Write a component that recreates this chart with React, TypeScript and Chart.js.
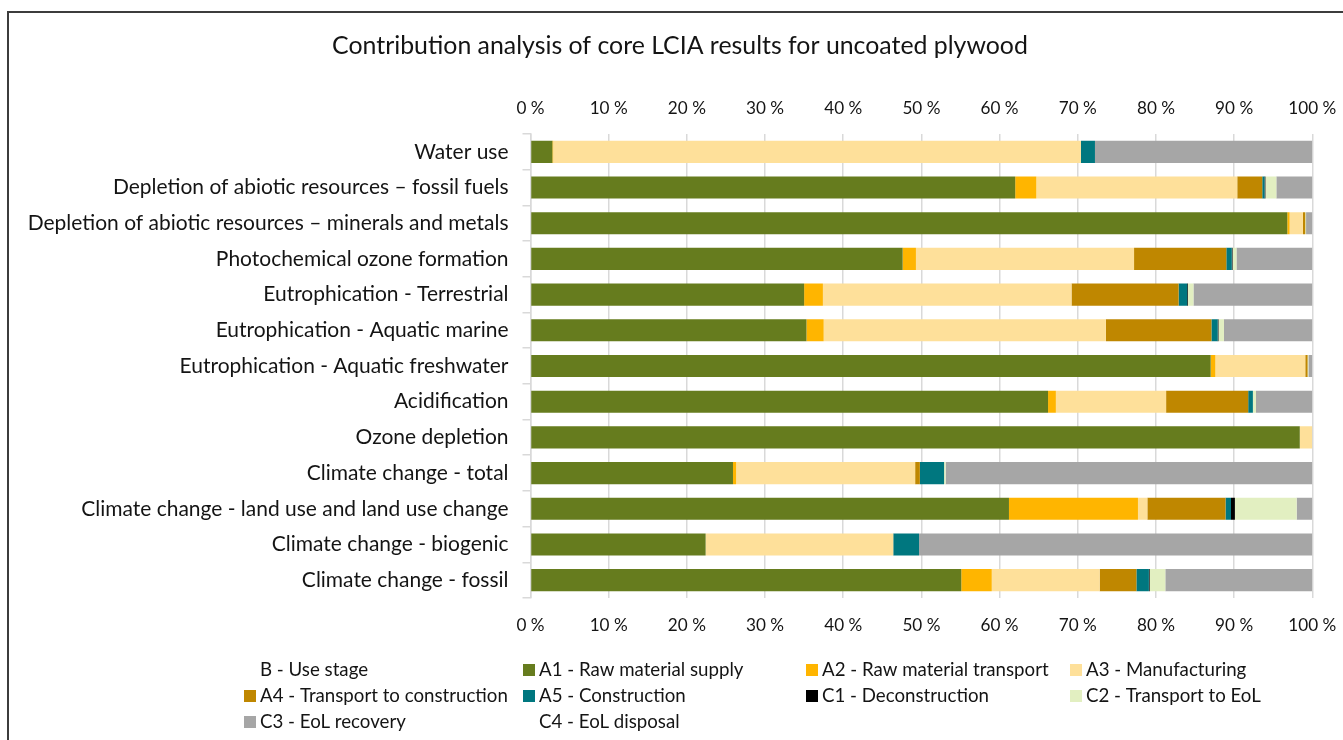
import React, { useEffect, useRef } from 'react';
import { Chart, registerables } from 'chart.js';

Chart.register(...registerables);

const FONT = 'Lato, "Open Sans", sans-serif';
const TEXT = '#141414';

const chartTitle = 'Contribution analysis of core LCIA results for uncoated plywood';

const categories = [
  'Water use',
  'Depletion of abiotic resources – fossil fuels',
  'Depletion of abiotic resources – minerals and metals',
  'Photochemical ozone formation',
  'Eutrophication - Terrestrial',
  'Eutrophication - Aquatic marine',
  'Eutrophication - Aquatic freshwater',
  'Acidification',
  'Ozone depletion',
  'Climate change - total',
  'Climate change - land use and land use change',
  'Climate change - biogenic',
  'Climate change - fossil',
];

const seriesNames = [
  'B - Use stage',
  'A1 - Raw material supply',
  'A2 - Raw material transport',
  'A3 - Manufacturing',
  'A4 - Transport to construction',
  'A5 - Construction',
  'C1 - Deconstruction',
  'C2 - Transport to EoL',
  'C3 - EoL recovery',
  'C4 - EoL disposal',
];

const seriesColors = [
  'rgba(0,0,0,0)',
  '#667c1e',
  '#ffb500',
  '#fee09a',
  '#bf8700',
  '#00777f',
  '#000000',
  '#e2efc1',
  '#a6a6a6',
  'rgba(0,0,0,0)',
];

const B = [0, 0, 0, 0, 0, 0, 0, 0, 0, 0, 0, 0, 0];
const A1 = [2.8, 62.0, 96.8, 47.6, 35.0, 35.3, 87.0, 66.2, 98.4, 25.9, 61.2, 22.4, 55.1];
const A2 = [0.1, 2.7, 0.3, 1.7, 2.4, 2.2, 0.6, 1.0, 0, 0.4, 16.5, 0, 3.9];
const A3 = [67.5, 25.7, 1.7, 27.9, 31.8, 36.1, 11.5, 14.1, 1.6, 22.9, 1.2, 24.0, 13.8];
const A4 = [0, 3.2, 0.3, 11.8, 13.7, 13.5, 0.3, 10.5, 0, 0.6, 10.0, 0, 4.7];
const A5 = [1.8, 0.3, 0, 0.7, 1.1, 0.8, 0, 0.6, 0, 3.1, 0.7, 3.3, 1.6];
const C1 = [0, 0.1, 0, 0.1, 0.1, 0.1, 0, 0, 0, 0, 0.5, 0, 0.1];
const C2 = [0, 1.4, 0.1, 0.5, 0.7, 0.7, 0.1, 0.4, 0, 0.2, 7.9, 0, 2.0];
const C3 = [27.8, 4.6, 0.8, 9.7, 15.2, 11.3, 0.5, 7.2, 0, 46.9, 2.0, 50.3, 18.8];
const C4 = [0, 0, 0, 0, 0, 0, 0, 0, 0, 0, 0, 0, 0];

const seriesValues = [B, A1, A2, A3, A4, A5, C1, C2, C3, C4];

const axisMin = 0;
const axisMax = 100;
const axisStep = 10;
const tickSuffix = ' %';

function fitSize(text: string, target: number): number {
  const c = document.createElement('canvas').getContext('2d');
  if (!c) return 16;
  c.font = `100px ${FONT}`;
  const w = c.measureText(text).width;
  return w > 0 ? (100 * target) / w : 16;
}

export default function App() {
  const canvasRef = useRef<HTMLCanvasElement | null>(null);

  useEffect(() => {
    const canvas = canvasRef.current;
    if (!canvas) return;

    const titleSize = fitSize(chartTitle, 696);
    const ySize = fitSize(categories[2], 481);
    const xSize = fitSize('100' + tickSuffix, 48);
    const legendSize = fitSize(seriesNames[4], 248);
    const xLine = xSize * 1.2;

    const legendCols = [235, 514, 797, 1061];
    const legendRows = [657, 683, 709];

    const overlay = {
      id: 'overlay',
      afterDraw(chart: any) {
        const ctx = chart.ctx as CanvasRenderingContext2D;
        ctx.save();
        ctx.fillStyle = TEXT;
        ctx.textBaseline = 'middle';
        ctx.textAlign = 'center';
        ctx.font = `${titleSize}px ${FONT}`;
        ctx.fillText(chartTitle, 671, 33);

        ctx.textAlign = 'left';
        ctx.font = `${legendSize}px ${FONT}`;
        seriesNames.forEach((name, i) => {
          const row = Math.floor(i / 4);
          const col = i % 4;
          const sx = legendCols[col];
          const cy = legendRows[row];
          const color = seriesColors[i];
          if (!color.startsWith('rgba(0,0,0,0')) {
            ctx.fillStyle = color;
            ctx.fillRect(sx, cy - 6, 12, 12);
          }
          ctx.fillStyle = TEXT;
          ctx.fillText(name, sx + 16, cy);
        });
        ctx.restore();
      },
    };

    const chart = new Chart(canvas, {
      type: 'bar',
      data: {
        labels: categories,
        datasets: seriesNames.map((name, i) => ({
          label: name,
          data: seriesValues[i],
          backgroundColor: seriesColors[i],
          borderWidth: 0,
          barPercentage: 0.62,
          categoryPercentage: 1,
          xAxisID: 'x',
        })),
      },
      options: {
        indexAxis: 'y',
        animation: false,
        responsive: true,
        maintainAspectRatio: false,
        layout: { padding: { top: 80, bottom: 102, left: 0, right: 30.7 } },
        plugins: {
          legend: { display: false },
          title: { display: false },
          tooltip: { enabled: false },
        },
        scales: {
          x: {
            type: 'linear',
            position: 'top',
            stacked: true,
            min: axisMin,
            max: axisMax,
            grid: { color: '#d9d9d9', lineWidth: 1.5, drawTicks: false },
            border: { display: false },
            ticks: {
              stepSize: axisStep,
              color: TEXT,
              font: { family: FONT, size: xSize },
              padding: 26 - xLine / 2,
              maxRotation: 0,
              callback: (v: any) => `${v}${tickSuffix}`,
            },
            afterFit: (s: any) => {
              s.height = 41;
              s.paddingLeft = 0;
              s.paddingRight = 0;
            },
          },
          x2: {
            type: 'linear',
            position: 'bottom',
            min: axisMin,
            max: axisMax,
            grid: { display: false, drawTicks: false },
            border: { display: false },
            ticks: {
              stepSize: axisStep,
              color: TEXT,
              font: { family: FONT, size: xSize },
              padding: 27 - xLine / 2,
              maxRotation: 0,
              callback: (v: any) => `${v}${tickSuffix}`,
            },
            afterFit: (s: any) => {
              s.height = 40;
              s.paddingLeft = 0;
              s.paddingRight = 0;
            },
          },
          y: {
            type: 'category',
            stacked: true,
            grid: {
              display: true,
              drawOnChartArea: false,
              drawTicks: true,
              tickLength: 8,
              offset: true,
              color: '#d9d9d9',
              lineWidth: 1.5,
            },
            border: { display: true, color: '#d9d9d9', width: 1.5 },
            ticks: {
              color: TEXT,
              font: { family: FONT, size: ySize },
              padding: 14,
              autoSkip: false,
            },
            afterFit: (s: any) => {
              s.width = 521.5;
            },
          },
        },
      } as any,
      plugins: [overlay],
    });

    return () => {
      chart.destroy();
    };
  }, []);

  return (
    <div
      style={{
        position: 'fixed',
        left: 0,
        top: 0,
        width: 1343,
        height: 740,
        overflow: 'hidden',
        background: '#ffffff',
      }}
    >
      <div
        style={{
          position: 'absolute',
          left: 7,
          top: 11,
          width: 1400,
          height: 800,
          borderLeft: '2px solid #3c3c3c',
          borderTop: '2px solid #3c3c3c',
        }}
      >
        <div style={{ position: 'absolute', left: 0, top: 0, width: 1334, height: 727 }}>
          <canvas ref={canvasRef} />
        </div>
      </div>
    </div>
  );
}
